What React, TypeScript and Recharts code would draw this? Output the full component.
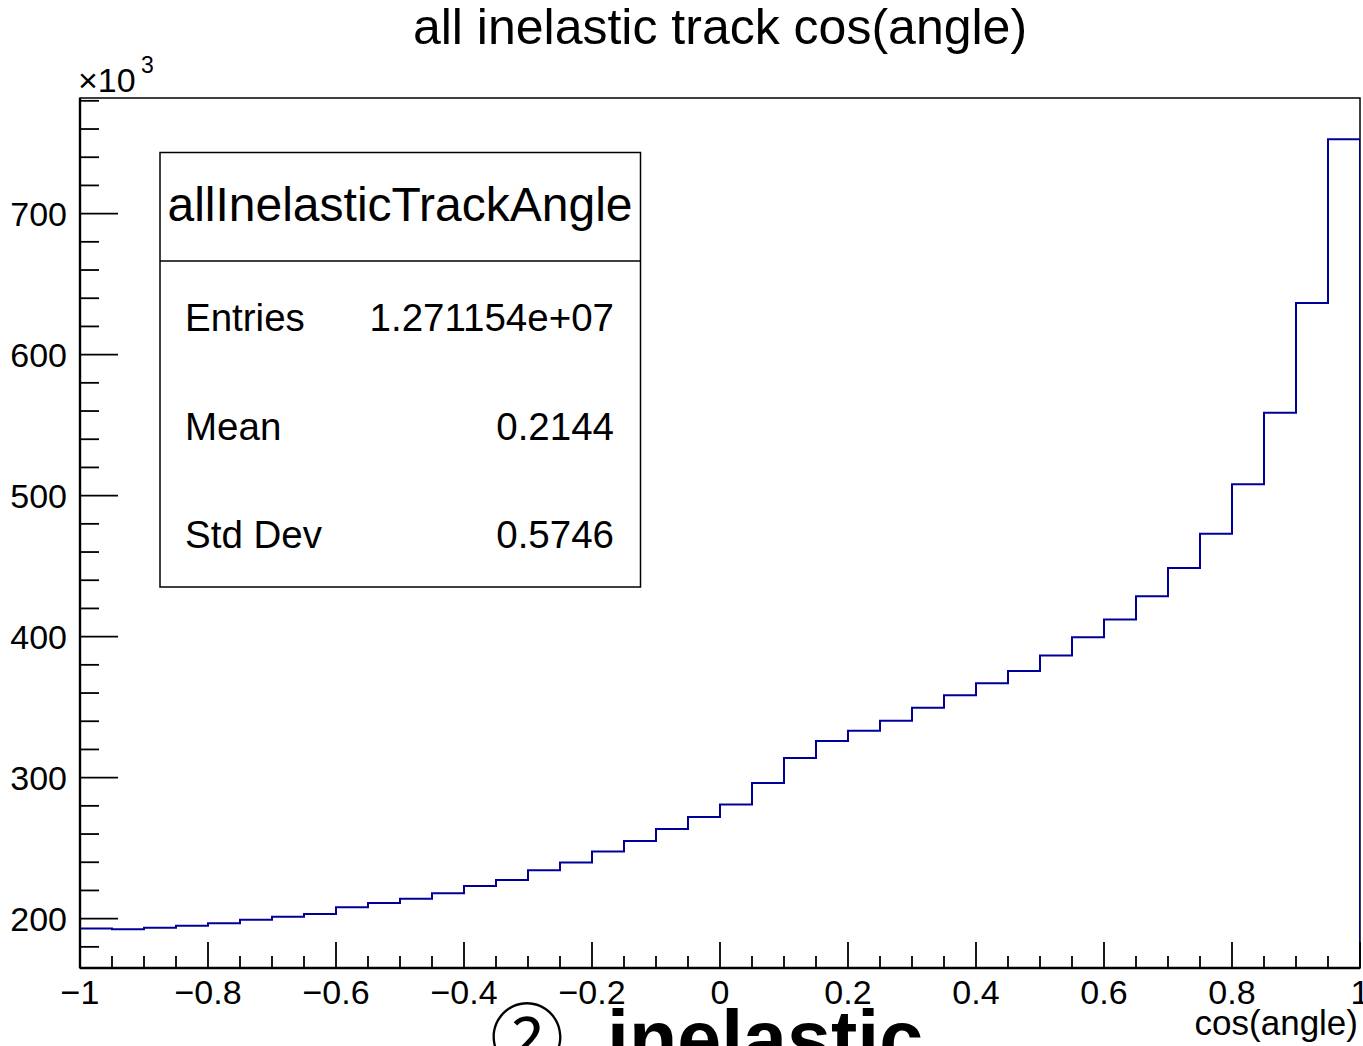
import { LineChart, Line, XAxis, YAxis, ReferenceArea, ReferenceLine } from 'recharts';

const W = 1363;
const H = 1046;
const PLOT_LEFT = 80;
const PLOT_TOP = 98;
const PLOT_RIGHT = 1360;
const PLOT_BOTTOM = 968;
const FONT = '"Liberation Sans", Arial, Helvetica, sans-serif';

const X_MIN = -1;
const X_MAX = 1;
const Y_MIN = 165;
const Y_MAX = 782;

// bin contents (x10^3), 40 equal bins over [-1, 1]
const binCounts = [
  193.0, 192.4, 193.6, 195.0, 196.7, 199.3, 201.4, 203.3, 208.0, 211.1,
  214.2, 218.0, 223.2, 227.4, 234.3, 239.9, 247.7, 255.1, 263.6, 272.1,
  280.9, 296.2, 314.0, 326.0, 333.3, 340.4, 349.6, 358.4, 366.9, 375.7,
  386.7, 399.5, 412.1, 428.6, 448.7, 473.0, 508.0, 558.7, 636.7, 752.7,
];

const xMajorTicks = [-1, -0.8, -0.6, -0.4, -0.2, 0, 0.2, 0.4, 0.6, 0.8, 1];
const yMajorTicks = [200, 300, 400, 500, 600, 700];

const statLabels = ['Entries', 'Mean', 'Std Dev'];
const statValues = ['1.271154e+07', '0.2144', '0.5746'];

const binWidth = (X_MAX - X_MIN) / binCounts.length;

// step outline: left edge of every bin, then close down at the right edge
const histData = [
  ...binCounts.map((c, i) => ({ x: X_MIN + i * binWidth, y: c })),
  { x: X_MAX, y: binCounts[binCounts.length - 1] },
  { x: X_MAX, y: Y_MIN },
];

// 4 minor divisions between x majors, 5 between y majors
const xTicks: number[] = [];
for (let i = 0; i < xMajorTicks.length - 1; i++) {
  const step = (xMajorTicks[i + 1] - xMajorTicks[i]) / 4;
  for (let k = 0; k < 4; k++) xTicks.push(xMajorTicks[i] + k * step);
}
xTicks.push(xMajorTicks[xMajorTicks.length - 1]);

const yTicks: number[] = [];
for (let v = yMajorTicks[0] - 20; v <= Y_MAX; v += 20) yTicks.push(v);

const isXMajor = (v: number) => xMajorTicks.some((m) => Math.abs(m - v) < 1e-6);
const isYMajor = (v: number) => yMajorTicks.includes(v);

const fmt = (v: number) => {
  const r = Number(v.toFixed(2));
  if (r === 0) return '0';
  return r < 0 ? '\u2212' + String(-r) : String(r);
};

function XTick(props: any) {
  const { x, payload } = props;
  const major = isXMajor(payload.value);
  return (
    <g>
      <line x1={x} x2={x} y1={PLOT_BOTTOM} y2={PLOT_BOTTOM - (major ? 26 : 12)} stroke="#000" strokeWidth={1.8} />
      {major && (
        <text x={x} y={1004} textAnchor="middle" fontFamily={FONT} fontSize={34} fill="#000">
          {fmt(payload.value)}
        </text>
      )}
    </g>
  );
}

function YTick(props: any) {
  const { y, payload } = props;
  const major = isYMajor(payload.value);
  return (
    <g>
      <line x1={PLOT_LEFT} x2={PLOT_LEFT + (major ? 38 : 19)} y1={y} y2={y} stroke="#000" strokeWidth={1.8} />
      {major && (
        <text x={67} y={y + 12} textAnchor="end" fontFamily={FONT} fontSize={34} fill="#000">
          {payload.value}
        </text>
      )}
    </g>
  );
}

function Overlay() {
  return (
    <svg width={W} height={H} style={{ position: 'absolute', left: 0, top: 0, pointerEvents: 'none' }} fontFamily={FONT}>
      <text x={720} y={44} textAnchor="middle" fontSize={50}>all inelastic track cos(angle)</text>

      <text x={78} y={92} fontSize={34}>×10</text>
      <text x={141} y={73} fontSize={23}>3</text>

      <rect x={160} y={152.5} width={480.5} height={434.5} fill="#fff" stroke="#000" strokeWidth={1.5} />
      <line x1={160} x2={640.5} y1={261} y2={261} stroke="#000" strokeWidth={1.5} />
      <text x={400} y={221} textAnchor="middle" fontSize={48}>allInelasticTrackAngle</text>
      {statLabels.map((label, i) => (
        <g key={label}>
          <text x={185} y={331 + i * 108.5} fontSize={38.5}>{label}</text>
          <text x={614} y={331 + i * 108.5} fontSize={38.5} textAnchor="end">{statValues[i]}</text>
        </g>
      ))}

      <text x={1358} y={1035} textAnchor="end" fontSize={35}>cos(angle)</text>

      <text x={490} y={1065} fontSize={74} fontFamily='"Noto Sans CJK JP", sans-serif'>②</text>
      <text x={607} y={1066} fontSize={79} fontWeight="bold">inelastic</text>
    </svg>
  );
}

export default function App() {
  return (
    <div style={{ position: 'absolute', left: 0, top: 0, width: W, height: H, background: '#fff', overflow: 'hidden' }}>
      <LineChart
        width={W}
        height={H}
        data={histData}
        margin={{ top: PLOT_TOP, right: W - PLOT_RIGHT, bottom: H - PLOT_BOTTOM - 40, left: PLOT_LEFT - 70 }}
      >
        <XAxis
          dataKey="x"
          type="number"
          domain={[X_MIN, X_MAX]}
          ticks={xTicks}
          interval={0}
          height={40}
          axisLine={false}
          tickLine={false}
          tick={<XTick />}
          allowDataOverflow
        />
        <YAxis
          type="number"
          domain={[Y_MIN, Y_MAX]}
          ticks={yTicks}
          interval={0}
          width={70}
          axisLine={false}
          tickLine={false}
          tick={<YTick />}
          allowDataOverflow
        />
        <ReferenceArea x1={X_MIN} x2={X_MAX} y1={Y_MIN} y2={Y_MAX} fill="none" stroke="#000" strokeWidth={1.5} ifOverflow="visible" />
        <Line
          type="stepAfter"
          dataKey="y"
          stroke="#000099"
          strokeWidth={2}
          dot={false}
          isAnimationActive={false}
        />
        <ReferenceLine y={Y_MIN} stroke="#000" strokeWidth={2.4} ifOverflow="visible" />
        <ReferenceLine x={X_MIN} stroke="#000" strokeWidth={2.4} ifOverflow="visible" />
      </LineChart>
      <Overlay />
    </div>
  );
}
